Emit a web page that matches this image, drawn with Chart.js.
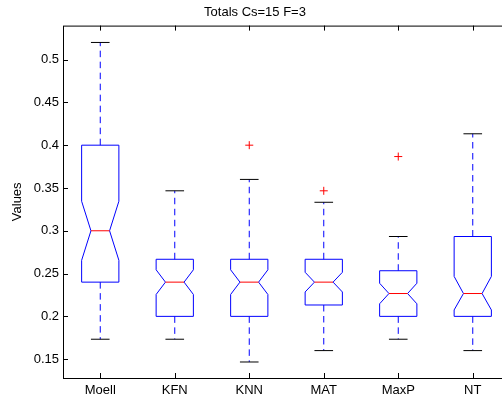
<!DOCTYPE html>
<html><head><meta charset="utf-8">
<script src="https://cdn.jsdelivr.net/npm/chart.js@4"></script>
<style>
html,body{margin:0;padding:0;overflow:hidden;background:#fff;width:502px;height:400px}
#wrap{width:520px;height:400px;position:relative}
</style>
</head><body><div id="wrap"><canvas id="c" width="520" height="400"></canvas></div>
<script>
// ---- data ----
const categories  = ['Moell', 'KFN', 'KNN', 'MAT', 'MaxP', 'NT'];
const whiskerLow  = [0.1733, 0.1733, 0.1467, 0.1600, 0.1733, 0.1600];
const q1          = [0.2400, 0.2000, 0.2000, 0.2133, 0.2000, 0.2000];
const medians     = [0.3000, 0.2400, 0.2400, 0.2400, 0.2267, 0.2267];
const q3          = [0.4000, 0.2667, 0.2667, 0.2667, 0.2533, 0.2933];
const whiskerHigh = [0.5200, 0.3467, 0.3600, 0.3333, 0.2933, 0.4133];
const notchLow    = [0.2655, 0.2256, 0.2256, 0.2285, 0.2147, 0.2075];
const notchHigh   = [0.3345, 0.2544, 0.2544, 0.2515, 0.2387, 0.2467];
const outlierCats = ['KNN', 'MAT', 'MaxP'];
const outlierVals = [0.4000, 0.3467, 0.3867];
const yTicks      = [0.15, 0.2, 0.25, 0.3, 0.35, 0.4, 0.45, 0.5];
const yTickLabels = ['0.15', '0.2', '0.25', '0.3', '0.35', '0.4', '0.45', '0.5'];
const chartTitle  = 'Totals Cs=15 F=3';
const yAxisTitle  = 'Values';

const FONT = "'Liberation Sans', Arial, Helvetica, sans-serif";

const boxPlugin = {
  id: 'boxplot',
  beforeDatasetsDraw(chart) {
    const {ctx, scales: {x, y}} = chart;
    const unit = x.getPixelForValue(1) - x.getPixelForValue(0);
    const hw = unit * 0.25, nw = unit * 0.125, cw = unit * 0.125;
    ctx.save();
    ctx.lineWidth = 1;
    categories.forEach((c, i) => {
      const cx = x.getPixelForValue(i);
      const pq1 = y.getPixelForValue(q1[i]), pq3 = y.getPixelForValue(q3[i]);
      const pm = y.getPixelForValue(medians[i]);
      const pnl = y.getPixelForValue(notchLow[i]), pnh = y.getPixelForValue(notchHigh[i]);
      const pwl = y.getPixelForValue(whiskerLow[i]), pwh = y.getPixelForValue(whiskerHigh[i]);
      // whiskers (dashed blue)
      ctx.strokeStyle = '#0000ff';
      ctx.setLineDash([6.5, 4.5]);
      ctx.beginPath();
      ctx.moveTo(cx, pq3); ctx.lineTo(cx, pwh);
      ctx.moveTo(cx, pq1); ctx.lineTo(cx, pwl);
      ctx.stroke();
      ctx.setLineDash([]);
      // caps (black)
      ctx.strokeStyle = '#000000';
      ctx.beginPath();
      ctx.moveTo(cx - cw, pwh); ctx.lineTo(cx + cw, pwh);
      ctx.moveTo(cx - cw, pwl); ctx.lineTo(cx + cw, pwl);
      ctx.stroke();
      // notched box
      ctx.strokeStyle = '#0000ff';
      ctx.beginPath();
      ctx.moveTo(cx - hw, pq1);
      ctx.lineTo(cx - hw, pnl);
      ctx.lineTo(cx - nw, pm);
      ctx.lineTo(cx - hw, pnh);
      ctx.lineTo(cx - hw, pq3);
      ctx.lineTo(cx + hw, pq3);
      ctx.lineTo(cx + hw, pnh);
      ctx.lineTo(cx + nw, pm);
      ctx.lineTo(cx + hw, pnl);
      ctx.lineTo(cx + hw, pq1);
      ctx.closePath();
      ctx.stroke();
      // median
      ctx.strokeStyle = '#ff0000';
      ctx.beginPath();
      ctx.moveTo(cx - nw, pm); ctx.lineTo(cx + nw, pm);
      ctx.stroke();
    });
    ctx.restore();
  },
  afterDraw(chart) {
    const {ctx, chartArea: a, scales: {x, y}} = chart;
    ctx.save();
    ctx.strokeStyle = '#000000';
    ctx.lineWidth = 1;
    ctx.strokeRect(a.left + 0.5, a.top + 0.5, a.right - a.left - 1, a.bottom - a.top);
    ctx.beginPath();
    const tl = 5;
    yTicks.forEach(v => {
      const py = Math.round(y.getPixelForValue(v)) + 0.5;
      ctx.moveTo(a.left, py); ctx.lineTo(a.left + tl, py);
      ctx.moveTo(a.right, py); ctx.lineTo(a.right - tl, py);
    });
    categories.forEach((c, i) => {
      const px = Math.round(x.getPixelForValue(i)) + 0.5;
      ctx.moveTo(px, a.top); ctx.lineTo(px, a.top + tl);
      ctx.moveTo(px, a.bottom); ctx.lineTo(px, a.bottom - tl);
    });
    ctx.stroke();
    ctx.restore();
  }
};

new Chart(document.getElementById('c'), {
  type: 'scatter',
  data: {
    labels: categories,
    datasets: [{
      data: outlierCats.map((c, i) => ({x: c, y: outlierVals[i]})),
      pointStyle: 'cross',
      radius: 4,
      hoverRadius: 4,
      borderColor: '#ff0000',
      backgroundColor: '#ff0000',
      borderWidth: 1
    }]
  },
  options: {
    responsive: false,
    animation: false,
    events: [],
    layout: {padding: {left: 0, right: 10, top: 0, bottom: 0}},
    plugins: {
      legend: {display: false},
      tooltip: {enabled: false},
      title: {
        display: true, text: chartTitle, color: '#000',
        font: {family: FONT, size: 13, weight: 'normal'},
        padding: {top: 5, bottom: 5}
      }
    },
    scales: {
      x: {
        type: 'category', labels: categories, offset: true,
        grid: {display: false, drawTicks: false},
        border: {display: false},
        ticks: {color: '#000', font: {family: FONT, size: 13}, padding: 5, maxRotation: 0},
        afterFit(s) { s.height = 22; }
      },
      y: {
        type: 'linear', min: 0.128, max: 0.5397,
        afterBuildTicks(s) { s.ticks = yTicks.map(v => ({value: v})); },
        grid: {display: false, drawTicks: false},
        border: {display: false},
        ticks: {
          color: '#000', font: {family: FONT, size: 13}, padding: 4,
          callback: (v) => { const k = yTicks.indexOf(v); return k >= 0 ? yTickLabels[k] : ''; }
        },
        title: {display: true, text: yAxisTitle, color: '#000', font: {family: FONT, size: 13}, padding: {top: 10, bottom: 0}},
        afterFit(s) { s.width = 63; }
      }
    }
  },
  plugins: [boxPlugin]
});
</script>
</body></html>
